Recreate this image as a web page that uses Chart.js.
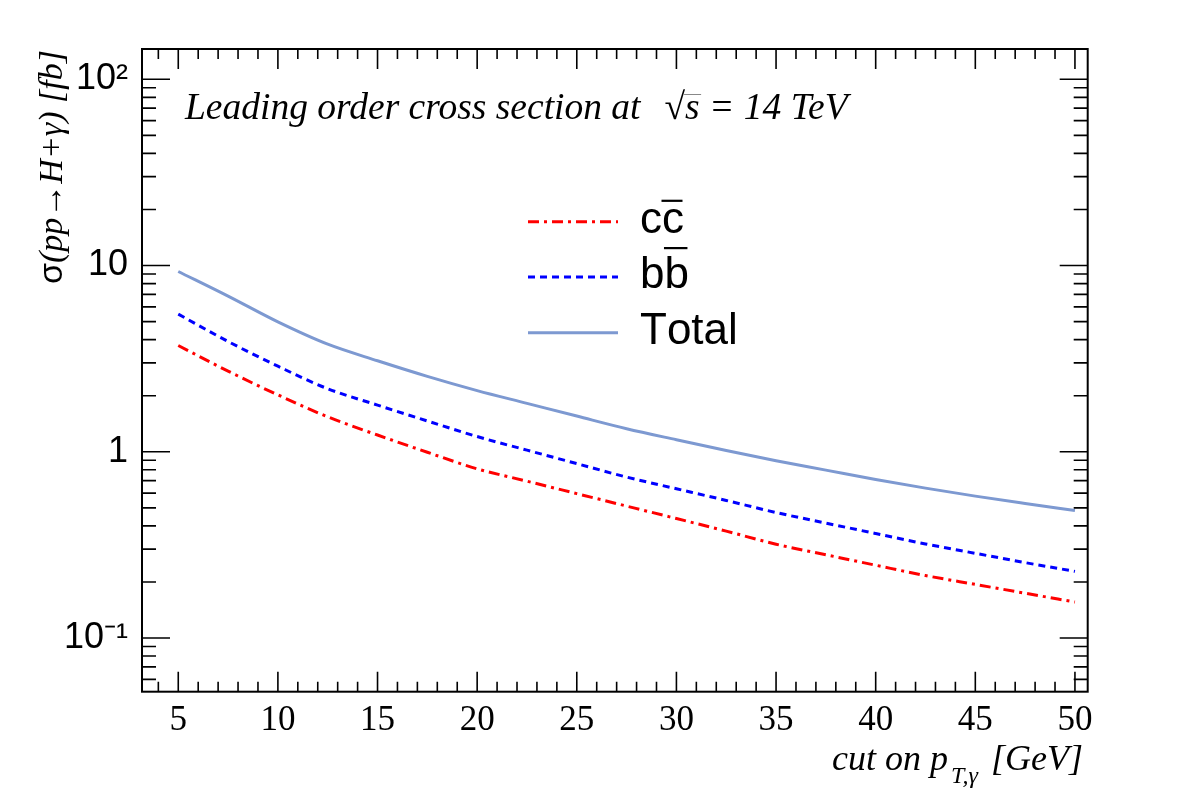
<!DOCTYPE html>
<html><head><meta charset="utf-8">
<script src="https://cdn.jsdelivr.net/npm/chart.js@4.4.0/dist/chart.umd.min.js"></script>
<style>html,body{margin:0;padding:0;background:#fff;}</style>
</head><body>
<canvas id="c" width="1182" height="805"></canvas>
<script>
// ---- data ----
const ptCut      = [5, 7.5, 10, 12.5, 15, 17.5, 20, 22.5, 25, 27.5, 30, 32.5, 35, 37.5, 40, 42.5, 45, 47.5, 50];
const sigmaCC    = [3.72, 2.71, 2.02, 1.54, 1.23, 0.994, 0.81, 0.695, 0.596, 0.511, 0.438, 0.375, 0.319, 0.28, 0.246, 0.2165, 0.194, 0.174, 0.156];
const sigmaBB    = [5.48, 3.91, 2.88, 2.18, 1.78, 1.464, 1.207, 1.02, 0.864, 0.731, 0.633, 0.548, 0.472, 0.414, 0.364, 0.320, 0.285, 0.254, 0.228];
const sigmaTotal = [9.29, 6.85, 4.98, 3.78, 3.08, 2.54, 2.13, 1.82, 1.555, 1.33, 1.16, 1.016, 0.895, 0.797, 0.709, 0.638, 0.578, 0.528, 0.484];
const seriesNames = ['cc\u0305', 'bb\u0305', 'Total'];
const xTickValues = [5, 10, 15, 20, 25, 30, 35, 40, 45, 50];
const xTickLabels = ['5', '10', '15', '20', '25', '30', '35', '40', '45', '50'];
const yTickValues = [0.1, 1, 10, 100];
const yTickLabels = ['10\u207B\u00B9', '1', '10', '10\u00B2'];
const headerText = ['Leading order cross section at', '\u221A', 's = 14 TeV'];

const W = 1182, H = 805;
const FRAME = {left: 142, top: 49, right: 1087.7, bottom: 691.7};
const SERIF = '"Liberation Serif", "Times New Roman", serif';
const SANS = '"Liberation Sans", Arial, sans-serif';

const toXY = (ys) => ptCut.map((x, i) => ({x: x, y: ys[i]}));

const rootFrame = {
  id: 'rootFrame',
  afterDatasetsDraw(chart) {
    const ctx = chart.ctx, a = chart.chartArea;
    const xs = chart.scales.x, ys = chart.scales.y;
    ctx.save();
    ctx.strokeStyle = '#000';
    ctx.lineWidth = 2;
    ctx.strokeRect(a.left, a.top, a.right - a.left, a.bottom - a.top);
    ctx.lineWidth = 1.6;
    ctx.beginPath();
    for (let v = Math.ceil(xs.min); v <= xs.max; v++) {
      const px = xs.getPixelForValue(v);
      const len = xTickValues.includes(v) ? 20 : 10;
      ctx.moveTo(px, a.bottom); ctx.lineTo(px, a.bottom - len);
      ctx.moveTo(px, a.top); ctx.lineTo(px, a.top + len);
    }
    for (let e = -3; e <= 3; e++) {
      for (let k = 1; k <= 9; k++) {
        const v = k * Math.pow(10, e);
        if (v < ys.min || v > ys.max) continue;
        const py = ys.getPixelForValue(v);
        const len = k === 1 ? 28 : 14;
        ctx.moveTo(a.left, py); ctx.lineTo(a.left + len, py);
        ctx.moveTo(a.right, py); ctx.lineTo(a.right - len, py);
      }
    }
    ctx.stroke();
    ctx.restore();
  },
  afterDraw(chart) {
    const ctx = chart.ctx;
    ctx.save();
    ctx.fillStyle = '#000';
    ctx.textBaseline = 'alphabetic';
    const drawSegs = (segs, x, y, align) => {
      let total = 0;
      segs.forEach(s => { ctx.font = s.font; s.w = ctx.measureText(s.t).width; total += s.w + (s.gap || 0); });
      let cx = align === 'right' ? x - total : x;
      segs.forEach(s => { cx += (s.gap || 0); ctx.font = s.font; ctx.textAlign = 'left'; ctx.fillText(s.t, cx, y + (s.dy || 0)); s.x = cx; cx += s.w; });
      return segs;
    };
    // header
    const hs = drawSegs([
      {t: headerText[0], font: 'italic 37.5px ' + SERIF},
      {t: headerText[1], font: '37.5px ' + SERIF, gap: 24},
      {t: headerText[2], font: 'italic 37.5px ' + SERIF}
    ], 185, 119, 'left');
    ctx.lineWidth = 1;
    ctx.strokeStyle = '#888';
    ctx.beginPath();
    ctx.moveTo(hs[1].x + hs[1].w - 1, 94.5); ctx.lineTo(hs[2].x + 16, 94.5);
    ctx.stroke();

    // x title
    drawSegs([
      {t: 'cut on p', font: 'italic 36px ' + SERIF},
      {t: 'T,\u03B3', font: 'italic 24px ' + SERIF, dy: 13, gap: 3},
      {t: ' [GeV]', font: 'italic 36px ' + SERIF, gap: 4}
    ], 1083, 770, 'right');

    // y title (rotated)
    ctx.save();
    ctx.translate(62, 50);
    ctx.rotate(-Math.PI / 2);
    drawSegs([
      {t: '\u03C3', font: '34px ' + SANS},
      {t: '(pp', font: 'italic 34px ' + SERIF},
      {t: '\u2192', font: '34px ' + SERIF},
      {t: 'H+\u03B3) [fb]', font: 'italic 34px ' + SERIF}
    ], 0, 0, 'right');
    ctx.restore();

    // legend
    const legY = [221.7, 277, 332.7];
    [0, 1, 2].forEach((di, row) => {
      const ds = chart.data.datasets[di];
      const y = legY[row];
      ctx.save();
      ctx.strokeStyle = ds.borderColor;
      ctx.lineWidth = ds.borderWidth;
      ctx.setLineDash(ds.borderDash || []);
      ctx.beginPath();
      ctx.moveTo(528, y); ctx.lineTo(618, y);
      ctx.stroke();
      ctx.restore();
      ctx.font = '44px ' + SANS;
      ctx.textAlign = 'left';
      const label = ds.label;
      let cx = 640;
      const base = y + 11;
      for (let i = 0; i < label.length; i++) {
        const ch = label[i];
        if (ch === '\u0305') continue;
        const m = ctx.measureText(ch);
        ctx.fillText(ch, cx, base);
        if (label[i + 1] === '\u0305') {
          const top = base - m.actualBoundingBoxAscent - 8;
          ctx.fillRect(cx - 0.5, top - 1, m.width - 1, 2.2);
        }
        cx += m.width;
      }
    });
    ctx.restore();
  }
};

new Chart(document.getElementById('c'), {
  type: 'line',
  data: {
    datasets: [
      {label: seriesNames[0], data: toXY(sigmaCC), borderColor: '#ff0000', borderWidth: 3, borderDash: [11, 5, 3, 5]},
      {label: seriesNames[1], data: toXY(sigmaBB), borderColor: '#0000ff', borderWidth: 3, borderDash: [7, 5]},
      {label: seriesNames[2], data: toXY(sigmaTotal), borderColor: '#7d99d1', borderWidth: 3}
    ]
  },
  options: {
    responsive: false,
    animation: false,
    devicePixelRatio: 1,
    layout: {padding: {left: 0, top: FRAME.top, right: W - FRAME.right, bottom: 0}},
    elements: {point: {radius: 0}, line: {cubicInterpolationMode: 'monotone', fill: false}},
    plugins: {legend: {display: false}, tooltip: {enabled: false}, title: {display: false}},
    scales: {
      x: {
        type: 'linear', min: 3.18, max: 50.64,
        grid: {display: false, drawTicks: false}, border: {display: false},
        afterBuildTicks: (s) => { s.ticks = xTickValues.map(v => ({value: v})); },
        afterFit: (s) => { s.height = H - FRAME.bottom; },
        ticks: {
          color: '#000', font: {family: SERIF, size: 35}, padding: 8, maxRotation: 0, autoSkip: false,
          callback: (v, i) => xTickLabels[i]
        }
      },
      y: {
        type: 'logarithmic', min: 0.0515, max: 145.4,
        grid: {display: false, drawTicks: false}, border: {display: false},
        afterBuildTicks: (s) => { s.ticks = yTickValues.map(v => ({value: v})); },
        afterFit: (s) => { s.width = FRAME.left; },
        ticks: {
          color: '#000', font: {family: SANS, size: 36}, padding: 14, autoSkip: false,
          callback: (v, i) => yTickLabels[i]
        }
      }
    }
  },
  plugins: [rootFrame]
});
</script>
</body></html>
